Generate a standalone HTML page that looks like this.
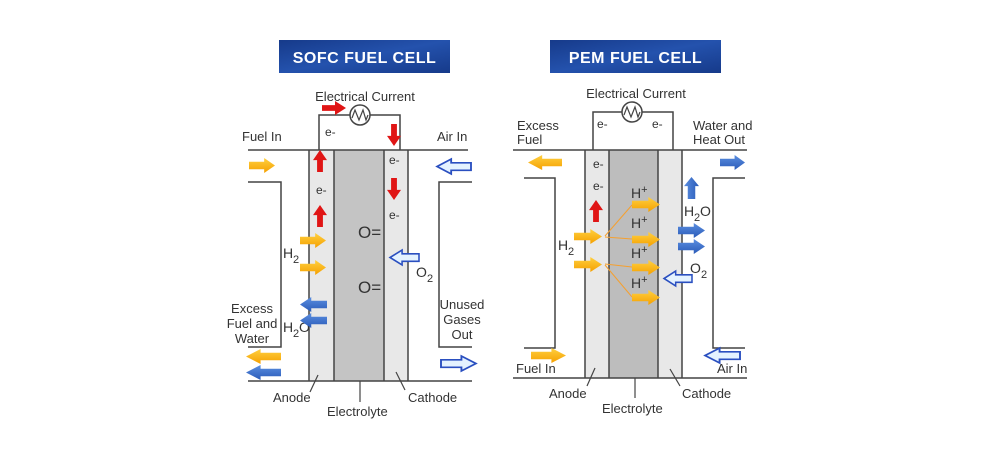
<!DOCTYPE html>
<html><head><meta charset="utf-8"><style>
html,body{margin:0;padding:0;background:#fff;}
svg{display:block;}
text{font-family:"Liberation Sans",Arial,sans-serif;fill:#333;}
</style></head><body>
<svg width="1000" height="455" viewBox="0 0 1000 455" xmlns="http://www.w3.org/2000/svg">
<defs>
<linearGradient id="tb" x1="0" y1="0" x2="1" y2="1"><stop offset="0" stop-color="#163a8a"/><stop offset="0.5" stop-color="#2452ad"/><stop offset="1" stop-color="#163a8a"/></linearGradient>
<linearGradient id="yl" x1="0" y1="0" x2="0" y2="1"><stop offset="0" stop-color="#ffd040"/><stop offset="1" stop-color="#f5a000"/></linearGradient>
<linearGradient id="bl" x1="0" y1="0" x2="0" y2="1"><stop offset="0" stop-color="#5b8ee0"/><stop offset="1" stop-color="#2a5bb8"/></linearGradient>
<symbol id="ay" viewBox="0 0 24 12" overflow="visible" preserveAspectRatio="none"><polygon points="0,3 14,3 14,0 24,6 14,12 14,9 0,9" fill="url(#yl)"/></symbol>
<symbol id="ab" viewBox="0 0 24 12" overflow="visible" preserveAspectRatio="none"><polygon points="0,3 14,3 14,0 24,6 14,12 14,9 0,9" fill="url(#bl)"/></symbol>
<symbol id="ao" viewBox="0 0 24 12" overflow="visible" preserveAspectRatio="none"><polygon points="0,3 14,3 14,0 24,6 14,12 14,9 0,9" fill="#e4f2ff" stroke="#2a4fc0" stroke-width="1.3"/></symbol>
<symbol id="ar" viewBox="0 0 24 12" overflow="visible" preserveAspectRatio="none"><polygon points="0,3.5 13,3.5 13,0 24,6 13,12 13,8.5 0,8.5" fill="#e01515"/></symbol>
</defs>

<!-- ===== SOFC ===== -->
<rect x="279" y="40" width="171" height="33" fill="url(#tb)"/>
<text x="364.5" y="63" text-anchor="middle" font-size="16" font-weight="bold" style="fill:#fff;letter-spacing:0.5px">SOFC FUEL CELL</text>

<rect x="309" y="150" width="25" height="231" fill="#e8e8e8"/>
<rect x="334" y="150" width="50" height="231" fill="#c4c4c4"/>
<rect x="384" y="150" width="24" height="231" fill="#e8e8e8"/>
<g stroke="#444" stroke-width="1.5" fill="none">
<line x1="248" y1="150" x2="468" y2="150"/>
<line x1="248" y1="381" x2="472" y2="381"/>
<line x1="309" y1="150" x2="309" y2="381"/>
<line x1="334" y1="150" x2="334" y2="381"/>
<line x1="384" y1="150" x2="384" y2="381"/>
<line x1="408" y1="150" x2="408" y2="381"/>
<polyline points="248,182 281,182 281,347 248,347"/>
<polyline points="472,182 439,182 439,347 472,347"/>
<polyline points="319,150 319,115 350,115"/>
<polyline points="370,115 400,115 400,150"/>
<circle cx="360" cy="115" r="10" fill="#fff"/>
<polyline points="352,118 355,110 359,120 363,110 366,120 368,115" stroke-width="1.2"/>
<line x1="318" y1="375" x2="310" y2="392" stroke-width="1.2"/>
<line x1="360" y1="381" x2="360" y2="402" stroke-width="1.2"/>
<line x1="396" y1="372" x2="405" y2="390" stroke-width="1.2"/>
</g>
<text x="365" y="101" text-anchor="middle" font-size="13">Electrical Current</text>
<text x="242" y="141" font-size="13">Fuel In</text>
<text x="437" y="141" font-size="13">Air In</text>
<text x="325" y="136" font-size="12">e-</text>
<text x="316" y="194" font-size="12">e-</text>
<text x="389" y="164" font-size="12">e-</text>
<text x="389" y="219" font-size="12">e-</text>
<text x="358" y="238" font-size="17">O=</text>
<text x="358" y="293" font-size="17">O=</text>
<text x="283" y="258" font-size="14">H</text><text x="293" y="263" font-size="11">2</text>
<text x="283" y="332" font-size="14">H</text><text x="293" y="337" font-size="11">2</text><text x="299" y="332" font-size="14">O</text>
<text x="416" y="277" font-size="14">O</text><text x="427" y="282" font-size="11">2</text>
<text x="252" y="313" text-anchor="middle" font-size="13">Excess</text>
<text x="252" y="328" text-anchor="middle" font-size="13">Fuel and</text>
<text x="252" y="343" text-anchor="middle" font-size="13">Water</text>
<text x="462" y="309" text-anchor="middle" font-size="13">Unused</text>
<text x="462" y="324" text-anchor="middle" font-size="13">Gases</text>
<text x="462" y="339" text-anchor="middle" font-size="13">Out</text>
<text x="273" y="402" font-size="13">Anode</text>
<text x="327" y="416" font-size="13">Electrolyte</text>
<text x="408" y="402" font-size="13">Cathode</text>

<use href="#ay" x="249" y="158" width="26" height="15"/>
<use href="#ay" x="300" y="233" width="26" height="15"/>
<use href="#ay" x="300" y="260" width="26" height="15"/>
<g transform="translate(327,297) scale(-1,1)"><use href="#ab" x="0" y="0" width="27" height="15"/></g>
<g transform="translate(327,313) scale(-1,1)"><use href="#ab" x="0" y="0" width="27" height="15"/></g>
<g transform="translate(281,349) scale(-1,1)"><use href="#ay" x="0" y="0" width="35" height="15"/></g>
<g transform="translate(281,365) scale(-1,1)"><use href="#ab" x="0" y="0" width="35" height="15"/></g>
<g transform="translate(471,159) scale(-1,1)"><use href="#ao" x="0" y="0" width="34" height="15"/></g>
<g transform="translate(419,250) scale(-1,1)"><use href="#ao" x="0" y="0" width="29" height="15"/></g>
<use href="#ao" x="441" y="356" width="35" height="15"/>
<use href="#ar" x="322" y="101" width="24" height="14"/>
<g transform="translate(313,172) rotate(-90)"><use href="#ar" x="0" y="0" width="22" height="14"/></g>
<g transform="translate(313,227) rotate(-90)"><use href="#ar" x="0" y="0" width="22" height="14"/></g>
<g transform="translate(401,124) rotate(90)"><use href="#ar" x="0" y="0" width="22" height="14"/></g>
<g transform="translate(401,178) rotate(90)"><use href="#ar" x="0" y="0" width="22" height="14"/></g>

<!-- ===== PEM ===== -->
<rect x="550" y="40" width="171" height="33" fill="url(#tb)"/>
<text x="635.5" y="63" text-anchor="middle" font-size="16" font-weight="bold" style="fill:#fff;letter-spacing:0.5px">PEM FUEL CELL</text>

<rect x="585" y="150" width="24" height="228" fill="#e8e8e8"/>
<rect x="609" y="150" width="49" height="228" fill="#bdbdbd"/>
<rect x="658" y="150" width="24" height="228" fill="#e8e8e8"/>
<g stroke="#444" stroke-width="1.5" fill="none">
<line x1="513" y1="150" x2="747" y2="150"/>
<line x1="513" y1="378" x2="747" y2="378"/>
<line x1="585" y1="150" x2="585" y2="378"/>
<line x1="609" y1="150" x2="609" y2="378"/>
<line x1="658" y1="150" x2="658" y2="378"/>
<line x1="682" y1="150" x2="682" y2="378"/>
<polyline points="524,178 555,178 555,348 524,348"/>
<polyline points="745,178 713,178 713,348 745,348"/>
<polyline points="593,150 593,112 622,112"/>
<polyline points="642,112 673,112 673,150"/>
<circle cx="632" cy="112" r="10" fill="#fff"/>
<polyline points="624,115 627,107 631,117 635,107 638,117 640,112" stroke-width="1.2"/>
<line x1="595" y1="368" x2="587" y2="386" stroke-width="1.2"/>
<line x1="635" y1="378" x2="635" y2="398" stroke-width="1.2"/>
<line x1="670" y1="369" x2="680" y2="386" stroke-width="1.2"/>
</g>
<g stroke="#f5a030" stroke-width="1" fill="none">
<polyline points="605,236 632,205"/><line x1="605" y1="237" x2="632" y2="239"/>
<line x1="605" y1="264" x2="632" y2="267"/><polyline points="605,265 632,297"/>
</g>
<text x="636" y="98" text-anchor="middle" font-size="13">Electrical Current</text>
<text x="517" y="130" font-size="13">Excess</text>
<text x="517" y="144" font-size="13">Fuel</text>
<text x="693" y="130" font-size="13">Water and</text>
<text x="693" y="144" font-size="13">Heat Out</text>
<text x="597" y="128" font-size="12">e-</text>
<text x="652" y="128" font-size="12">e-</text>
<text x="593" y="168" font-size="12">e-</text>
<text x="593" y="190" font-size="12">e-</text>
<text x="631" y="198" font-size="14">H<tspan font-size="11" dy="-5">+</tspan></text>
<text x="631" y="228" font-size="14">H<tspan font-size="11" dy="-5">+</tspan></text>
<text x="631" y="258" font-size="14">H<tspan font-size="11" dy="-5">+</tspan></text>
<text x="631" y="288" font-size="14">H<tspan font-size="11" dy="-5">+</tspan></text>
<text x="558" y="250" font-size="14">H</text><text x="568" y="255" font-size="11">2</text>
<text x="684" y="216" font-size="14">H</text><text x="694" y="221" font-size="11">2</text><text x="700" y="216" font-size="14">O</text>
<text x="690" y="273" font-size="14">O</text><text x="701" y="278" font-size="11">2</text>
<text x="516" y="373" font-size="13">Fuel In</text>
<text x="717" y="373" font-size="13">Air In</text>
<text x="549" y="398" font-size="13">Anode</text>
<text x="602" y="413" font-size="13">Electrolyte</text>
<text x="682" y="398" font-size="13">Cathode</text>

<g transform="translate(562,155) scale(-1,1)"><use href="#ay" x="0" y="0" width="34" height="15"/></g>
<use href="#ab" x="720" y="155" width="25" height="15"/>
<g transform="translate(684,199) rotate(-90)"><use href="#ab" x="0" y="0" width="22" height="15"/></g>
<use href="#ay" x="632" y="197" width="28" height="15"/>
<use href="#ay" x="632" y="232" width="28" height="15"/>
<use href="#ay" x="632" y="260" width="28" height="15"/>
<use href="#ay" x="632" y="290" width="28" height="15"/>
<use href="#ay" x="574" y="229" width="28" height="15"/>
<use href="#ay" x="574" y="257" width="28" height="15"/>
<g transform="translate(589,222) rotate(-90)"><use href="#ar" x="0" y="0" width="22" height="14"/></g>
<use href="#ab" x="678" y="223" width="27" height="15"/>
<use href="#ab" x="678" y="239" width="27" height="15"/>
<g transform="translate(692,271) scale(-1,1)"><use href="#ao" x="0" y="0" width="28" height="15"/></g>
<use href="#ay" x="531" y="348" width="35" height="15"/>
<g transform="translate(740,348) scale(-1,1)"><use href="#ao" x="0" y="0" width="35" height="15"/></g>
</svg>
</body></html>
